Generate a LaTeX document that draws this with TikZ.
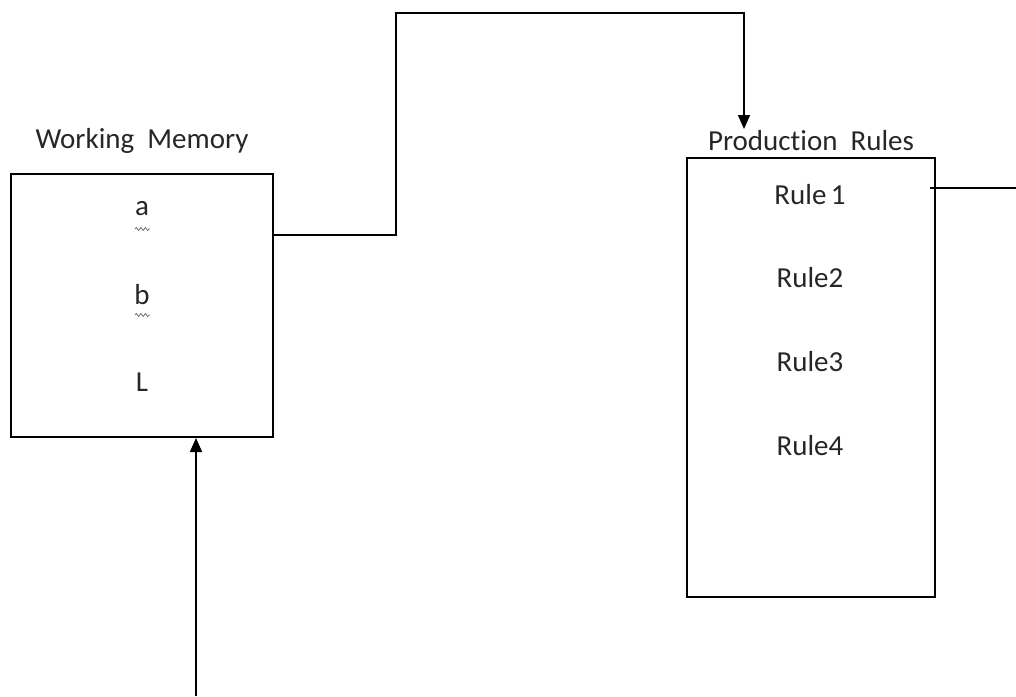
\documentclass[tikz,border=0pt]{standalone}
\usepackage{fontspec}
\setmainfont{Carlito}[Ligatures={NoCommon}]
\usetikzlibrary{arrows.meta,decorations.pathmorphing}
\begin{document}
\begin{tikzpicture}[x=1pt,y=-1pt,
  box/.style={draw=black,line width=1.6pt,inner sep=0pt},
  lbl/.style={font=\fontsize{29}{33}\selectfont,text=black!85,inner sep=0pt},
  conn/.style={draw=black,line width=1.6pt},
  arr/.style={conn,-{Triangle[length=14pt,width=12pt]}},
  squig/.style={draw=black!60,line width=0.7pt,decorate,decoration={snake,amplitude=1.5pt,segment length=4.5pt}}]
\useasboundingbox (0,0) rectangle (1016,696);
% Working memory box
\node[box,minimum width=262pt,minimum height=263pt] (wm) at (142,305.5) {};
\node[lbl] (wmt) at (142,141) {Working\hspace{0.45em}Memory};
\node[lbl] (a) at (142,209) {a};
\node[lbl] (b) at (142,295) {b};
\node[lbl] (l) at (142,382) {L};
\draw[squig] (135,229) -- (150,229);
\draw[squig] (135,315) -- (150,315);
% Production rules box
\node[box,minimum width=248pt,minimum height=439pt] (pr) at (811,377.5) {};
\node[lbl] (prt) at (811,141) {Production\hspace{0.45em}Rules};
\node[lbl] (r1) at (810,195) {Rule\hspace{0.15em}1};
\node[lbl] (r2) at (810,278) {Rule2};
\node[lbl] (r3) at (810,362) {Rule3};
\node[lbl] (r4) at (810,446) {Rule4};
% coordinates
\coordinate (wmout) at (273,235);
\coordinate (k1) at (396,235);
\coordinate (k2) at (396,13);
\coordinate (k3) at (744,13);
\coordinate (prin) at (744,129);
\coordinate (prout) at (930,188);
\coordinate (rend) at (1016,188);
\coordinate (bstart) at (196,696);
\coordinate (wmin) at (196,438);
% connectors
\draw[arr] (wmout) -- (k1) -- (k2) -- (k3) -- (prin);
\draw[conn] (prout) -- (rend);
\draw[arr] (bstart) -- (wmin);
\end{tikzpicture}
\end{document}
